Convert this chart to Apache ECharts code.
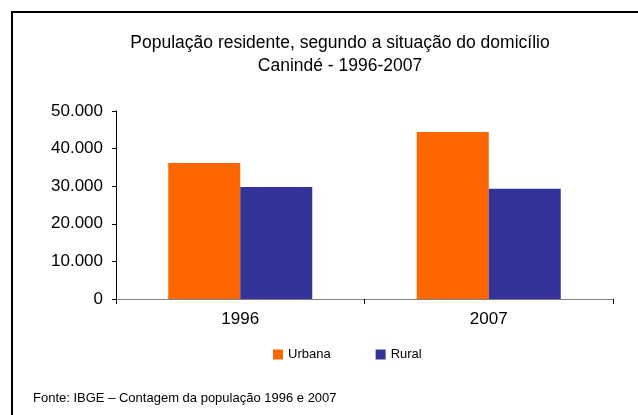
<!DOCTYPE html>
<html>
<head>
<meta charset="utf-8" />
<title>População residente - Canindé</title>
<script src="https://cdn.jsdelivr.net/npm/echarts@6/dist/echarts.min.js"></script>
<style>
  html, body { margin: 0; padding: 0; background: #fff; }
  #chart { width: 638px; height: 415px; }
</style>
</head>
<body>
<div id="chart"></div>
<script>
  // dados
  var anos = ['1996', '2007'];
  var urbana = [36200, 44400];
  var rural = [29800, 29300];
  var yTicks = [0, 10000, 20000, 30000, 40000, 50000];

  // 50000 -> "50.000"
  function fmt(v) {
    return String(v).replace(/\B(?=(\d{3})+(?!\d))/g, '.');
  }

  var chart = echarts.init(document.getElementById('chart'));
  var font = 'Liberation Sans, Arial, sans-serif';
  var option = {
    animation: false,
    backgroundColor: '#fff',
    graphic: [
      {
        type: 'polyline',
        shape: { points: [[12, 420], [12, 12], [640, 12]] },
        style: { stroke: '#000', lineWidth: 2, fill: null }
      },
      {
        type: 'text', x: 340, y: 34,
        style: { text: 'População residente, segundo a situação do domicílio', fill: '#000', font: '17.5px ' + font, align: 'center' }
      },
      {
        type: 'text', x: 340, y: 57,
        style: { text: 'Canindé - 1996-2007', fill: '#000', font: '17.5px ' + font, align: 'center' }
      },
      {
        type: 'text', x: 33, y: 392,
        style: { text: 'Fonte: IBGE – Contagem da população 1996 e 2007', fill: '#000', font: '13px ' + font }
      }
    ],
    legend: {
      data: ['Urbana', 'Rural'],
      left: 268,
      top: 343,
      itemWidth: 10,
      itemHeight: 10,
      itemGap: 45,
      icon: 'rect',
      textStyle: { fontSize: 13, color: '#000', fontFamily: font }
    },
    grid: { left: 116, right: 25, top: 111, bottom: 116, containLabel: false },
    xAxis: {
      type: 'category',
      data: anos,
      axisLine: { lineStyle: { color: '#808080', width: 1 } },
      axisTick: { show: true, length: 5, lineStyle: { color: '#000' } },
      axisLabel: { fontSize: 17, color: '#000', fontFamily: font, margin: 12 }
    },
    yAxis: {
      type: 'value',
      min: yTicks[0],
      max: yTicks[yTicks.length - 1],
      interval: 10000,
      splitLine: { show: false },
      axisLine: { show: true, lineStyle: { color: '#000', width: 1 } },
      axisTick: { show: true, length: 4, lineStyle: { color: '#000' } },
      axisLabel: { fontSize: 17, color: '#000', fontFamily: font, margin: 13, formatter: fmt }
    },
    series: [
      { name: 'Urbana', type: 'bar', data: urbana, barWidth: 72, barGap: '0%', itemStyle: { color: '#FF6600' } },
      { name: 'Rural', type: 'bar', data: rural, barWidth: 72, barGap: '0%', itemStyle: { color: '#333399' } }
    ]
  };
  chart.setOption(option);
</script>
</body>
</html>
